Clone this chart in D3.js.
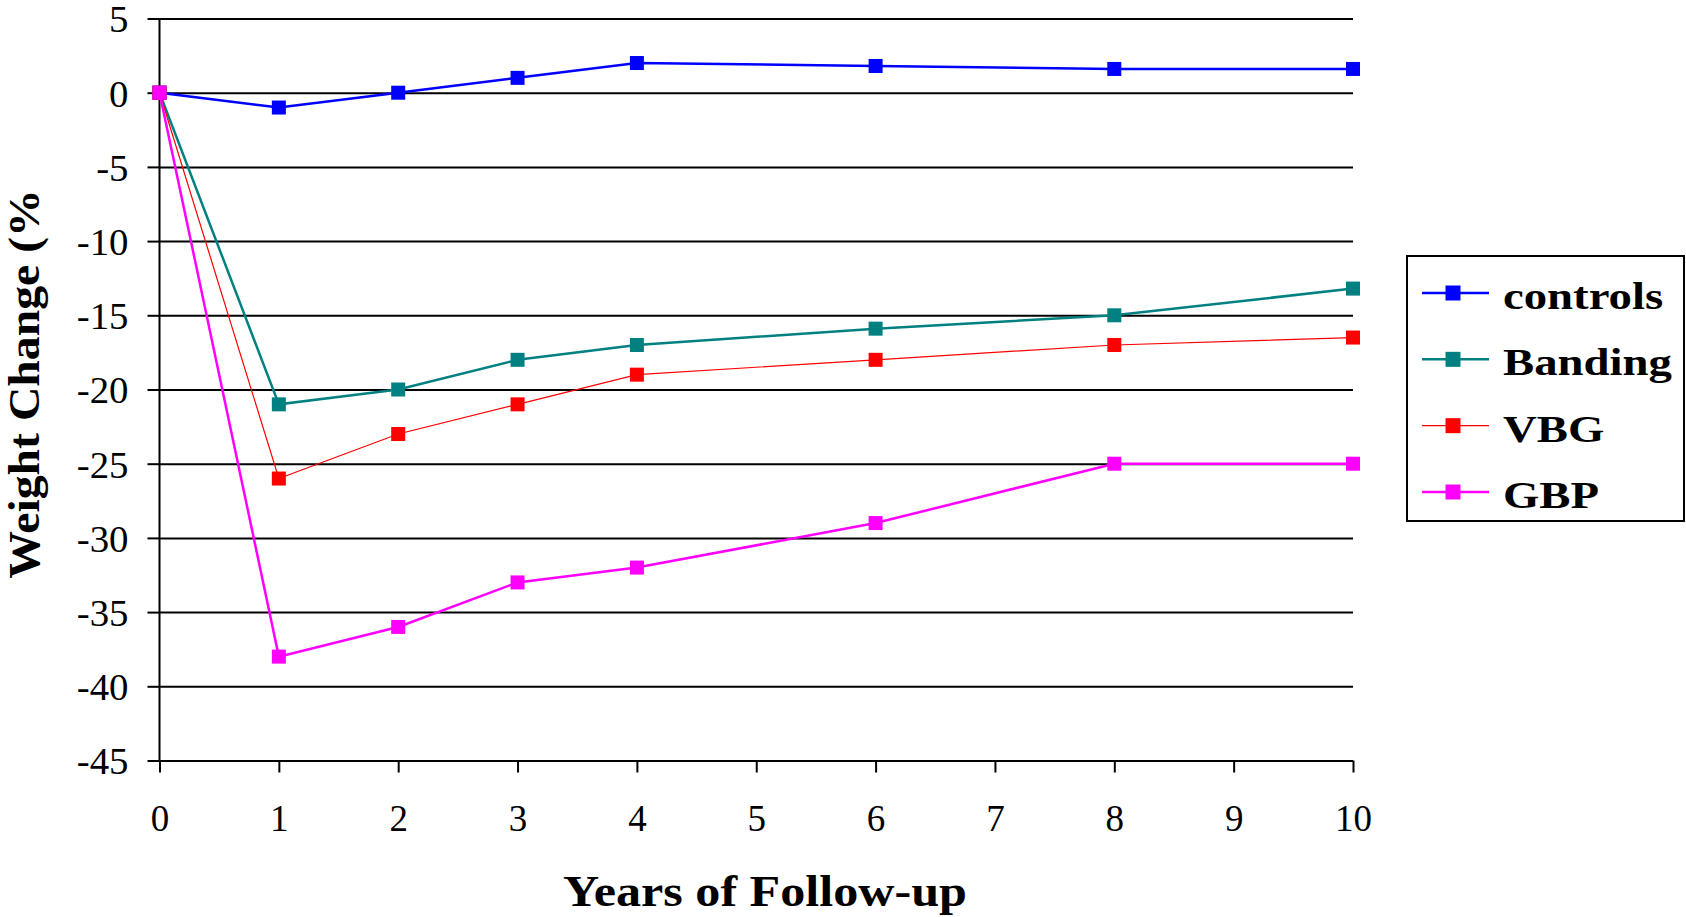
<!DOCTYPE html>
<html>
<head>
<meta charset="utf-8">
<script src="https://cdn.jsdelivr.net/npm/d3@7"></script>
<style>
  html, body { margin: 0; padding: 0; background: #fff; }
  svg { display: block; }
  text { font-family: "Liberation Serif", "Times New Roman", serif; fill: #000; }
</style>
</head>
<body>
<svg id="chart" width="1686" height="917"></svg>
<script>
// Follow-up years at which weight change was recorded
const years = [0, 1, 2, 3, 4, 6, 8, 10];

// Weight change (%) for each group
const controls = [0, -1, 0, 1, 2, 1.8, 1.6, 1.6];
const banding  = [0, -21, -20, -18, -17, -15.9, -15, -13.2];
const vbg      = [0, -26, -23, -21, -19, -18, -17, -16.5];
const gbp      = [0, -38, -36, -33, -32, -29, -25, -25];

const seriesNames = ["controls", "Banding", "VBG", "GBP"];
const seriesValues = [controls, banding, vbg, gbp];

// Axis ticks and titles
const xTicks = [0, 1, 2, 3, 4, 5, 6, 7, 8, 9, 10];
const yTicks = [5, 0, -5, -10, -15, -20, -25, -30, -35, -40, -45];
const xTitle = "Years of Follow-up";
const yTitle = "Weight Change (%";

// Styling per series
const colors = ["#0000ff", "#008080", "#ff0000", "#ff00ff"];
const widths = [2.5, 2.5, 1.2, 2.5];

const svg = d3.select("#chart");

const x = d3.scaleLinear().domain([0, 10]).range([159.5, 1353]);
const y = d3.scaleLinear().domain([-45, 5]).range([760.5, 18.5]);

// Plain hyphen-minus labels
const plain = d => String(d);

// Stretch a text element horizontally by a factor of its natural width
function stretch(sel, k) {
  sel.each(function () {
    const w = this.getComputedTextLength();
    d3.select(this).attr("textLength", w * k).attr("lengthAdjust", "spacingAndGlyphs");
  });
}

// Horizontal gridlines
svg.append("g")
  .attr("transform", `translate(${x(0)},0)`)
  .call(d3.axisLeft(y).tickValues(yTicks).tickSize(-(x(10) - x(0))).tickFormat("").tickSizeOuter(0))
  .call(g => g.select(".domain").remove())
  .call(g => g.selectAll("line").attr("stroke", "#000").attr("stroke-width", 2));

// Y axis with ticks and labels
const yAxis = svg.append("g")
  .attr("transform", `translate(${x(0)},0)`)
  .call(d3.axisLeft(y).tickValues(yTicks).tickSize(12).tickPadding(19).tickSizeOuter(0).tickFormat(plain));
yAxis.select(".domain").remove();
yAxis.selectAll("line").attr("stroke", "#000").attr("stroke-width", 2);
yAxis.selectAll("text")
  .attr("font-family", "Liberation Serif")
  .attr("font-size", 37)
  .attr("dy", "0.36em")
  .call(stretch, 1.05);

// Vertical axis line
svg.append("line")
  .attr("x1", x(0)).attr("x2", x(0))
  .attr("y1", y(5)).attr("y2", y(-45))
  .attr("stroke", "#000").attr("stroke-width", 2);

// X axis with ticks and labels
const xAxis = svg.append("g")
  .attr("transform", `translate(0,${y(-45)})`)
  .call(d3.axisBottom(x).tickValues(xTicks).tickSize(12).tickSizeOuter(0).tickFormat(plain));
xAxis.select(".domain").remove();
xAxis.selectAll("line").attr("stroke", "#000").attr("stroke-width", 2);
xAxis.selectAll("text")
  .attr("font-family", "Liberation Serif")
  .attr("font-size", 37)
  .attr("y", 70)
  .attr("dy", 0);

// Series lines and markers
const line = d3.line().x((d, i) => x(years[i])).y(d => y(d));

seriesValues.forEach((vals, s) => {
  const g = svg.append("g");
  g.append("path")
    .datum(vals)
    .attr("d", line)
    .attr("fill", "none")
    .attr("stroke", colors[s])
    .attr("stroke-width", widths[s])
    .attr("stroke-linejoin", "miter");
  g.selectAll("rect")
    .data(vals)
    .join("rect")
    .attr("x", (d, i) => x(years[i]) - 7)
    .attr("y", d => y(d) - 7)
    .attr("width", 14)
    .attr("height", 14)
    .attr("fill", colors[s]);
});

// Axis titles
svg.append("text")
  .attr("x", 765)
  .attr("y", 906)
  .attr("text-anchor", "middle")
  .attr("font-weight", "bold")
  .attr("font-size", 44)
  .text(xTitle)
  .call(stretch, 1.14);

svg.append("text")
  .attr("transform", "translate(39,384) rotate(-90)")
  .attr("text-anchor", "middle")
  .attr("font-weight", "bold")
  .attr("font-size", 45)
  .text(yTitle)
  .call(stretch, 392 / (8.222 * 45));

// Legend
const legend = svg.append("g");
legend.append("rect")
  .attr("x", 1407).attr("y", 256)
  .attr("width", 277).attr("height", 265)
  .attr("fill", "#fff")
  .attr("stroke", "#000").attr("stroke-width", 2);

const rowY = d3.scalePoint().domain(seriesNames).range([293, 492]);

seriesNames.forEach((name, s) => {
  const cy = rowY(name);
  legend.append("line")
    .attr("x1", 1422).attr("x2", 1489)
    .attr("y1", cy).attr("y2", cy)
    .attr("stroke", colors[s]).attr("stroke-width", widths[s]);
  legend.append("rect")
    .attr("x", 1453 - 7.5).attr("y", cy - 7.5)
    .attr("width", 15).attr("height", 15)
    .attr("fill", colors[s]);
  legend.append("text")
    .attr("x", 1503)
    .attr("y", cy + 16)
    .attr("font-weight", "bold")
    .attr("font-size", 38)
    .text(name)
    .call(stretch, 1.23);
});
</script>
</body>
</html>
